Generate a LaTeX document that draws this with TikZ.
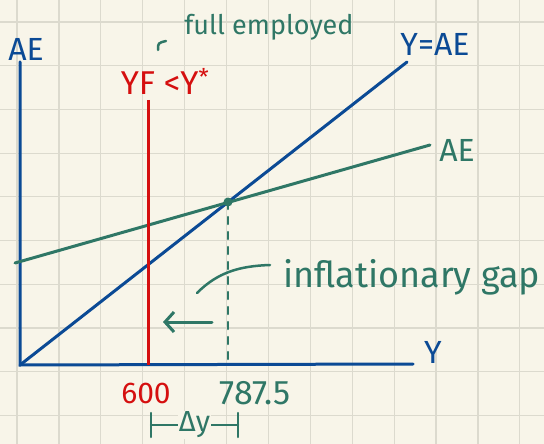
\documentclass[tikz,border=0pt]{standalone}
\usepackage{fontspec}
\setmainfont{Fira Sans}
\usetikzlibrary{arrows.meta}
\definecolor{paper}{HTML}{F8F5E9}
\definecolor{gridc}{HTML}{DCDACE}
\definecolor{aeblue}{HTML}{0B4A95}
\definecolor{aegreen}{HTML}{2F7766}
\definecolor{yfred}{HTML}{D50F0F}

\begin{document}
\begin{tikzpicture}[x=1pt,y=-1pt,
  axis/.style={aeblue,line width=3pt,line cap=round},
  blueline/.style={aeblue,line width=3pt,line cap=round},
  greenline/.style={aegreen,line width=3pt,line cap=round},
  redline/.style={yfred,line width=3pt},
  bluetext/.style={text=aeblue,inner sep=0pt,font=\fontsize{32}{34}\selectfont},
  greentext/.style={text=aegreen,inner sep=0pt,font=\fontsize{27}{30}\selectfont},
  redtext/.style={text=yfred,inner sep=0pt,font=\fontsize{30}{34}\selectfont}]
\useasboundingbox[fill=paper] (0,0) rectangle (544,444);
% grid paper
\foreach \i in {0,...,12}
  \draw[gridc,line width=1.2pt] ({17+41.9*\i},0) -- ({17+41.9*\i},444);
\foreach \j in {0,...,9}
  \draw[gridc,line width=1.2pt] (0,{22+43.7*\j}) -- (544,{22+43.7*\j});

% axes
\coordinate (O) at (20,365);
\coordinate (ytop) at (20,62);
\coordinate (xend) at (413,364);
\draw[axis] (ytop) -- (O) -- (xend);
\node[bluetext] (aelab) at (26,49) {AE};
\node[bluetext] (ylab) at (433,352) {Y};

% 45 degree line
\coordinate (yaeend) at (407,62);
\draw[blueline] (O) -- (yaeend);
\node[bluetext] (yaelab) at (435,44) {Y=AE};

% AE line
\coordinate (aestart) at (15,263);
\coordinate (aeend) at (430,145);
\draw[greenline] (aestart) -- (aeend);
\node[bluetext,text=aegreen] (aelab2) at (457,150) {AE};

% equilibrium
\coordinate (E) at (228,202);
\coordinate (Efoot) at (228,361);
\fill[aegreen] (E) circle (4.5pt);
\draw[greenline,line width=2.5pt,dash pattern=on 7pt off 8pt] (E) -- (Efoot);

% full employment output
\coordinate (yftop) at (148,100);
\coordinate (yfbot) at (148,365);
\draw[redline] (yftop) -- (yfbot);
\node[redtext,font=\fontsize{33}{36}\selectfont] (yflab) at (165,81) {YF <Y\textsuperscript{*}};
\node[greentext] (fulllab) at (269,27) {full employed};
\draw[greenline,line width=2.5pt] (158,50) .. controls (158,43) .. (166,41);

% inflationary gap
\coordinate (lead1) at (197,293);
\coordinate (lead2) at (270,265);
\draw[greenline,line width=2.5pt] (lead1) .. controls (218,272) and (240,266) .. (lead2);
\node[greentext,anchor=base west,font=\fontsize{36}{40}\selectfont] (gaplab) at (283,287) {inflationary gap};
\coordinate (arrs) at (212,322);
\coordinate (arre) at (163,322);
\draw[greenline,-{Straight Barb[length=9pt,width=20pt]}] (arrs) -- (arre);

% values on the Y axis
\node[redtext] (v600) at (146,393) {600};
\node[greentext,font=\fontsize{34}{38}\selectfont] (v787) at (255,393) {787.5};
\coordinate (dyl) at (151,425);
\coordinate (dyr) at (238,425);
\coordinate (dyl1) at (151,413);
\coordinate (dyl2) at (151,437);
\coordinate (dyr1) at (238,413);
\coordinate (dyr2) at (238,437);
\draw[greenline,line width=2.5pt] (dyl) -- (dyr)
  node[midway,fill=paper,inner sep=1pt,text=aegreen,font=\fontsize{29}{32}\selectfont] (dy) {Δy};
\draw[greenline,line width=2.5pt] (dyl1) -- (dyl2);
\draw[greenline,line width=2.5pt] (dyr1) -- (dyr2);
\end{tikzpicture}
\end{document}
